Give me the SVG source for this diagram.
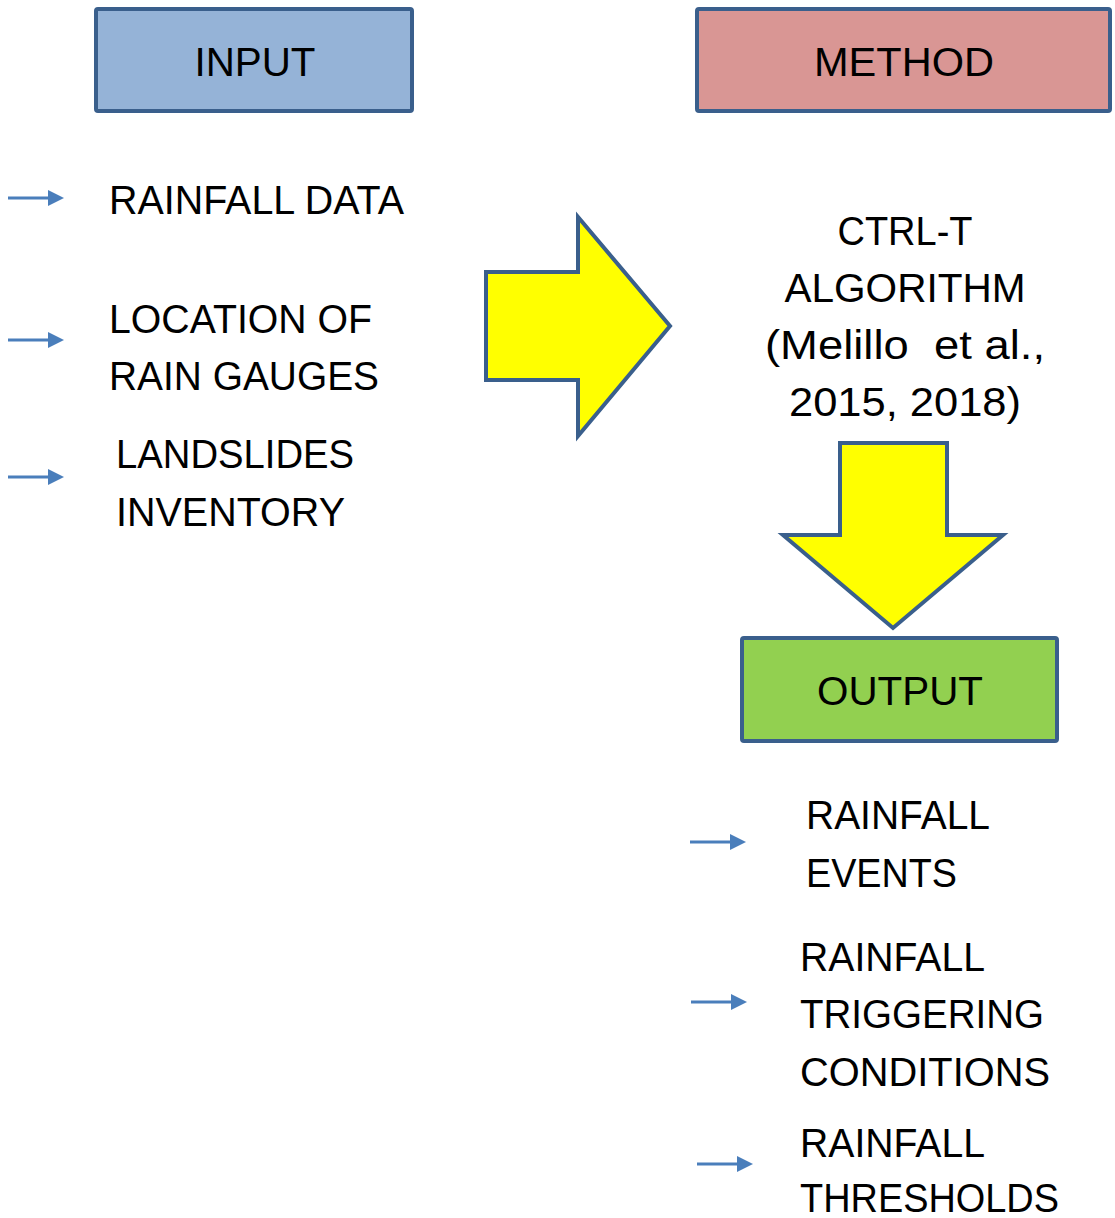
<svg xmlns="http://www.w3.org/2000/svg" xmlns:xlink="http://www.w3.org/1999/xlink" width="1115" height="1218" viewBox="0 0 1115 1218">
<style>
  .box { stroke: #3A5F8C; stroke-width: 4; }
  .big { fill: #FFFF00; stroke: #3A5F8C; stroke-width: 4; stroke-linejoin: miter; }
  .t { font-family: "Liberation Sans", Arial, sans-serif; font-size: 40px; fill: #000; }
  .c { text-anchor: middle; }
</style>
<defs>
  <g id="sa">
    <line x1="0" y1="0" x2="42" y2="0" stroke="#4A7EBB" stroke-width="3"/>
    <polygon points="40,-8 56,0 40,8" fill="#4A7EBB"/>
  </g>
</defs>
<rect width="1115" height="1218" fill="#FFFFFF"/>

<g id="connectors">
  <polygon class="big" points="486,272 578,272 578,217 670,326 578,436 578,380 486,380"/>
  <polygon class="big" points="840,443 947,443 947,535 1003,535 893,628 783,535 840,535"/>
  <use xlink:href="#sa" x="8" y="198"/>
  <use xlink:href="#sa" x="8" y="340"/>
  <use xlink:href="#sa" x="8" y="477"/>
  <use xlink:href="#sa" x="690" y="842"/>
  <use xlink:href="#sa" x="691" y="1002"/>
  <use xlink:href="#sa" x="697" y="1164"/>
</g>

<g id="input">
  <rect class="box" x="96" y="9" width="316" height="102" rx="2" fill="#95B3D7"/>
  <text class="t c" x="255" y="76" textLength="121" lengthAdjust="spacingAndGlyphs">INPUT</text>
</g>

<g id="method">
  <rect class="box" x="697" y="9" width="413" height="102" rx="2" fill="#D99694"/>
  <text class="t c" x="904" y="76" textLength="180" lengthAdjust="spacingAndGlyphs">METHOD</text>
</g>

<g id="output">
  <rect class="box" x="742" y="638" width="315" height="103" rx="2" fill="#92D050"/>
  <text class="t c" x="900" y="705" textLength="166" lengthAdjust="spacingAndGlyphs">OUTPUT</text>
</g>

<g id="input-items">
  <text class="t" x="109" y="214" textLength="295" lengthAdjust="spacingAndGlyphs">RAINFALL DATA</text>
  <text class="t" x="109" y="333" textLength="263" lengthAdjust="spacingAndGlyphs">LOCATION OF</text>
  <text class="t" x="109" y="390" textLength="270" lengthAdjust="spacingAndGlyphs">RAIN GAUGES</text>
  <text class="t" x="116" y="468" textLength="238" lengthAdjust="spacingAndGlyphs">LANDSLIDES</text>
  <text class="t" x="116" y="526" textLength="229" lengthAdjust="spacingAndGlyphs">INVENTORY</text>
</g>

<g id="algorithm">
  <text class="t c" x="905" y="245" textLength="135" lengthAdjust="spacingAndGlyphs">CTRL-T</text>
  <text class="t c" x="905" y="302" textLength="241" lengthAdjust="spacingAndGlyphs">ALGORITHM</text>
  <text class="t c" x="905" y="359" textLength="280" lengthAdjust="spacingAndGlyphs" xml:space="preserve">(Melillo  et al.,</text>
  <text class="t c" x="905" y="416" textLength="232" lengthAdjust="spacingAndGlyphs">2015, 2018)</text>
</g>

<g id="output-items">
  <text class="t" x="806" y="829" textLength="184" lengthAdjust="spacingAndGlyphs">RAINFALL</text>
  <text class="t" x="806" y="887" textLength="151" lengthAdjust="spacingAndGlyphs">EVENTS</text>
  <text class="t" x="800" y="971" textLength="185" lengthAdjust="spacingAndGlyphs">RAINFALL</text>
  <text class="t" x="800" y="1028" textLength="244" lengthAdjust="spacingAndGlyphs">TRIGGERING</text>
  <text class="t" x="800" y="1086" textLength="250" lengthAdjust="spacingAndGlyphs">CONDITIONS</text>
  <text class="t" x="800" y="1157" textLength="185" lengthAdjust="spacingAndGlyphs">RAINFALL</text>
  <text class="t" x="800" y="1212" textLength="259" lengthAdjust="spacingAndGlyphs">THRESHOLDS</text>
</g>
</svg>
